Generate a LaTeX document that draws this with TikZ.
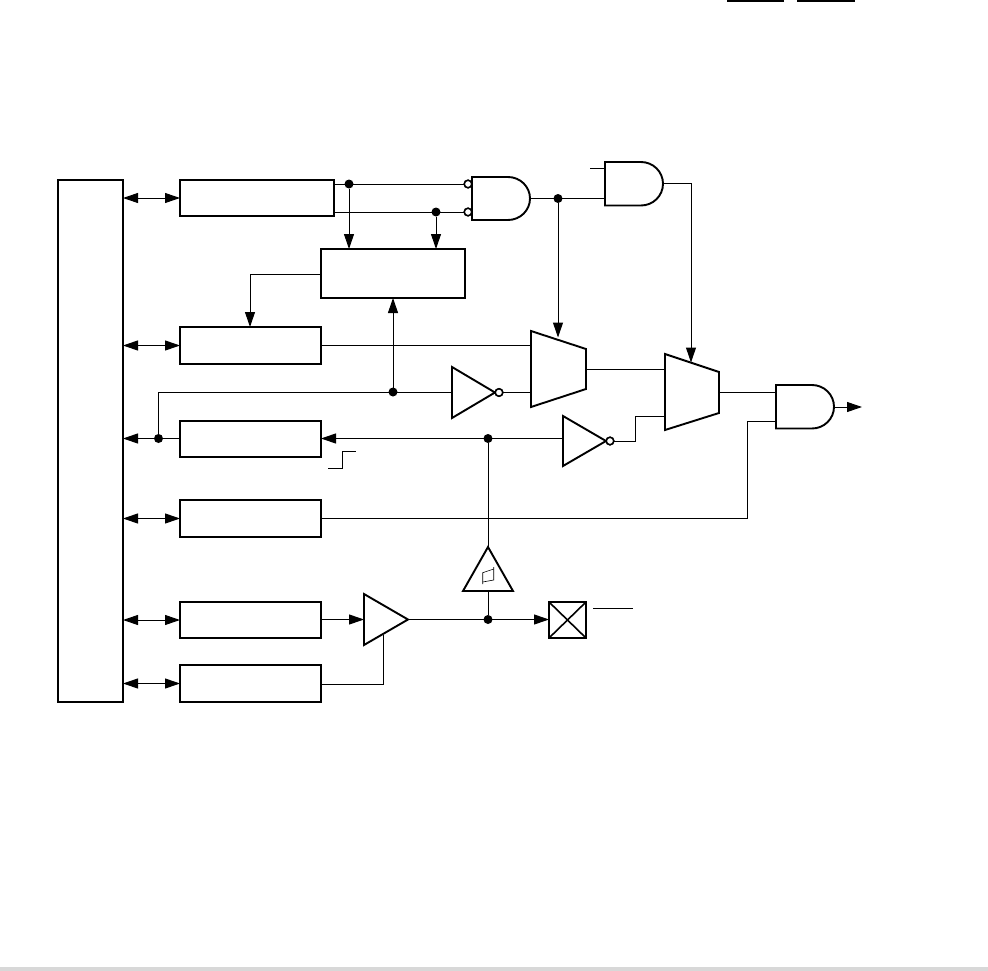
\documentclass[tikz,border=0pt]{standalone}
\usetikzlibrary{arrows.meta}
\definecolor{bandgray}{HTML}{D8D8D8}
\tikzset{
  wire/.style={line width=1pt,line cap=butt},
  arrowwire/.style={wire,-{Triangle[length=15pt,width=10pt]}},
  bothwire/.style={wire,{Triangle[length=15pt,width=10pt]}-{Triangle[length=15pt,width=10pt]}},
  outline/.style={draw,line width=1.9pt,line join=miter},
  blockbox/.style={outline,rectangle,inner sep=0pt,outer sep=0pt},
  heavybox/.style={blockbox,line width=2.8pt},
  junction/.style={circle,fill=black,inner sep=0pt,outer sep=0pt,minimum size=9pt},
  bubble/.style={circle,draw,fill=white,line width=1.5pt,inner sep=0pt,outer sep=0pt,minimum size=7.5pt},
}
% left x, top y, bottom y, flat-end x, tip x
\newcommand{\andshape}[5]{%
  \pgfmathsetmacro{\ry}{(#3-#2)/2}%
  \pgfmathsetmacro{\rx}{#5-#4}%
  \draw[outline,fill=white] (#1,#2) -- (#4,#2) arc[start angle=-90,end angle=90,x radius=\rx,y radius=\ry] -- (#1,#3) -- cycle;}
\begin{document}
\begin{tikzpicture}[x=1pt,y=-1pt]
\useasboundingbox (0,0) rectangle (988,971);
\fill[bandgray] (0,967) rectangle (988,971);
\draw[line width=1.8pt] (727,0.7) -- (784,0.7);
\draw[line width=1.8pt] (797,0.7) -- (855,0.7);

% blocks
\node[blockbox,minimum width=65pt,minimum height=522pt] (bus) at (90.5,441) {};
\node[blockbox,minimum width=154pt,minimum height=36pt] (b1) at (257,198) {};
\node[blockbox,minimum width=144pt,minimum height=49pt] (b2) at (393,273.5) {};
\node[blockbox,minimum width=141pt,minimum height=37pt] (b3) at (250.5,345.5) {};
\node[heavybox,minimum width=141pt,minimum height=36pt] (b4) at (250.5,439) {};
\node[blockbox,minimum width=141pt,minimum height=37pt] (b5) at (250.5,518.5) {};
\node[blockbox,minimum width=141pt,minimum height=36pt] (b6) at (250.5,620) {};
\node[blockbox,minimum width=141pt,minimum height=37pt] (b7) at (250.5,683.5) {};
\node[blockbox,minimum width=37pt,minimum height=36pt] (pad) at (567.5,620) {};
\draw[line width=1.6pt] (pad.north west) -- (pad.south east);
\draw[line width=1.6pt] (pad.north east) -- (pad.south west);

% junctions
\node[junction] (j1) at (349,184) {};
\node[junction] (j2) at (436,212) {};
\node[junction] (j3) at (558,198.5) {};
\node[junction] (j4) at (393,392) {};
\node[junction] (j5) at (158.5,438.5) {};
\node[junction] (j6) at (488,438.5) {};
\node[junction] (j7) at (488,619.5) {};

% bubbles
\node[bubble] (n1) at (468,184) {};
\node[bubble] (n2) at (468,212) {};
\node[bubble] (n3) at (499,392.5) {};
\node[bubble] (n4) at (610,441) {};

% ports
\coordinate (and1o) at (530,198.5);
\coordinate (and2i) at (605,198.5);
\coordinate (and2s) at (605,169);
\coordinate (and2f) at (590,169);
\coordinate (and2o) at (663,183.5);
\coordinate (m2top) at (691,362.5);
\coordinate (m1top) at (558,337.5);
\coordinate (m1a) at (531,345);
\coordinate (m1b) at (531,392.5);
\coordinate (m1o) at (586,369);
\coordinate (m2a) at (665,369);
\coordinate (m2b) at (665,416.5);
\coordinate (m2o) at (719,392);
\coordinate (and3a) at (776,392);
\coordinate (and3b) at (776,421);
\coordinate (and3o) at (834,407);
\coordinate (pout) at (862,407);
\coordinate (inv1i) at (452,392.5);
\coordinate (inv2i) at (563,438.5);
\coordinate (amp) at (364,619.5);
\coordinate (ampo) at (408,619.5);
\coordinate (ampb) at (383,635);
\coordinate (smt) at (488,547);
\coordinate (smb) at (488,591);

% connectors
\foreach \b/\y in {b1/198,b3/345.5,b5/518.5,b6/620,b7/683.5}
  \draw[bothwire] (bus.east |- 0,\y) -- (\b.west |- 0,\y);
\draw[arrowwire] (j5) -- (bus.east |- j5);
\draw[wire] (b4.west |- j5) -- (j5);
\draw[wire] (b1.east |- j1) -- (n1);
\draw[wire] (b1.east |- j2) -- (n2);
\draw[arrowwire] (j1) -- (b2.north -| j1);
\draw[arrowwire] (j2) -- (b2.north -| j2);
\draw[wire] (and1o) -- (and2i);
\draw[arrowwire] (j3) -- (m1top);
\draw[wire] (and2f) -- (and2s);
\draw[arrowwire] (and2o) -| (m2top);
\draw[arrowwire] (b2.west |- 0,274) -| (b3.north -| 250,0);
\draw[wire] (b3.east |- m1a) -- (m1a);
\draw[arrowwire] (j4) -- (b2.south -| j4);
\draw[wire] (j5) |- (inv1i);
\draw[wire] (n3) -- (m1b);
\draw[arrowwire] (inv2i) -- (b4.east |- inv2i);
\draw[wire] (n4) -- (635,441) -- (635,416.5) -- (m2b);
\draw[wire] (m1o) -- (m2a);
\draw[wire] (m2o) -- (and3a);
\draw[wire] (b5.east) -| (747,421) -- (and3b);
\draw[arrowwire] (and3o) -- (pout);
\draw[wire] (j6) -- (smt);
\draw[wire] (smb) -- (j7);
\draw[arrowwire] (b6.east |- amp) -- (amp);
\draw[wire] (ampo) -- (j7);
\draw[arrowwire] (j7.center) -- (pad.west |- j7.center);
\draw[wire] (b7.east |- 0,684) -| (ampb);
\draw[wire] (593,608) -- (633,608);

% step mark
\draw[wire] (328,468) -- (342,468);
\draw[wire] (342,469) -- (342,451) -- (356,451);

% gates
\andshape{472}{177}{220}{508}{530}
\andshape{605}{162}{205.5}{641}{663}
\andshape{776}{385}{428.5}{812}{834}
\draw[outline,fill=white] (531,331) -- (586,349) -- (586,389) -- (531,407) -- cycle;
\draw[outline,fill=white] (665,354) -- (719,372) -- (719,413) -- (665,430) -- cycle;
\draw[outline,fill=white] (452,367) -- (495,392.5) -- (452,418) -- cycle;
\draw[outline,fill=white] (563,416) -- (606,441) -- (563,466) -- cycle;
\draw[outline,fill=white] (364,594) -- (408,619.5) -- (364,645) -- cycle;
\draw[outline,fill=white] (488,547) -- (513,591) -- (463,591) -- cycle;
\node[bubble] at (n3) {};
\node[bubble] at (n4) {};
\node[bubble] at (n1) {};
\node[bubble] at (n2) {};
% hysteresis mark
\draw[line width=0.6pt] (482.7,584) -- (482.7,572.7) -- (493.7,569);
\draw[line width=0.6pt] (493.7,567) -- (493.7,580) -- (482.7,582);
\end{tikzpicture}
\end{document}
